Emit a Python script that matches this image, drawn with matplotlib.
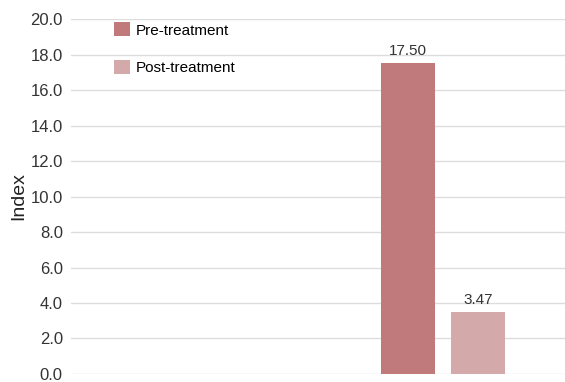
import numpy as np
import matplotlib.pyplot as plt

plt.rcParams['font.family'] = ['Liberation Sans', 'DejaVu Sans']

groups = ['', 'Treatment']
pre_values = [np.nan, 17.50]
post_values = [np.nan, 3.47]
labels = ['Pre-treatment', 'Post-treatment']
colors = ['#c07a7c', '#d4a9aa']

fig = plt.figure(figsize=(5.65, 3.82), dpi=100)
ax = fig.add_axes([0.126, 0.021, 0.874, 0.929])

x = np.arange(len(groups))
w = 0.22
gap = 0.031
b1 = ax.bar(x - w / 2 - gap + 0.006, pre_values, w, color=colors[0], label=labels[0], zorder=2)
b2 = ax.bar(x + w / 2 + gap + 0.006, post_values, w, color=colors[1], label=labels[1], zorder=2)

for bars, vals in [(b1, pre_values), (b2, post_values)]:
    for rect, v in zip(bars, vals):
        if np.isnan(v):
            continue
        ax.text(rect.get_x() + rect.get_width() / 2, v + 0.3, f'{v:.2f}',
                ha='center', va='bottom', fontsize=11, color='#333333')

ax.set_xlim(-0.5, 1.5)
ax.set_ylim(0, 20)
ax.set_yticks(np.arange(0, 20.1, 2))
ax.set_yticklabels([f'{t:.1f}' for t in np.arange(0, 20.1, 2)], fontsize=12, color='#333333')
ax.set_xticks([])
ax.tick_params(axis='y', length=0, pad=6)
ax.grid(axis='y', color='#dddddd', linewidth=1, zorder=0)
for s in ax.spines.values():
    s.set_visible(False)
ax.set_ylabel('Index', fontsize=14, color='#222222', labelpad=2)

ax.legend(loc='upper left', bbox_to_anchor=(0.058, 1.03), frameon=False, fontsize=11,
          handlelength=1.05, handleheight=1.05, handletextpad=0.4, labelspacing=1.45)

fig.savefig('out.png', dpi=100)
